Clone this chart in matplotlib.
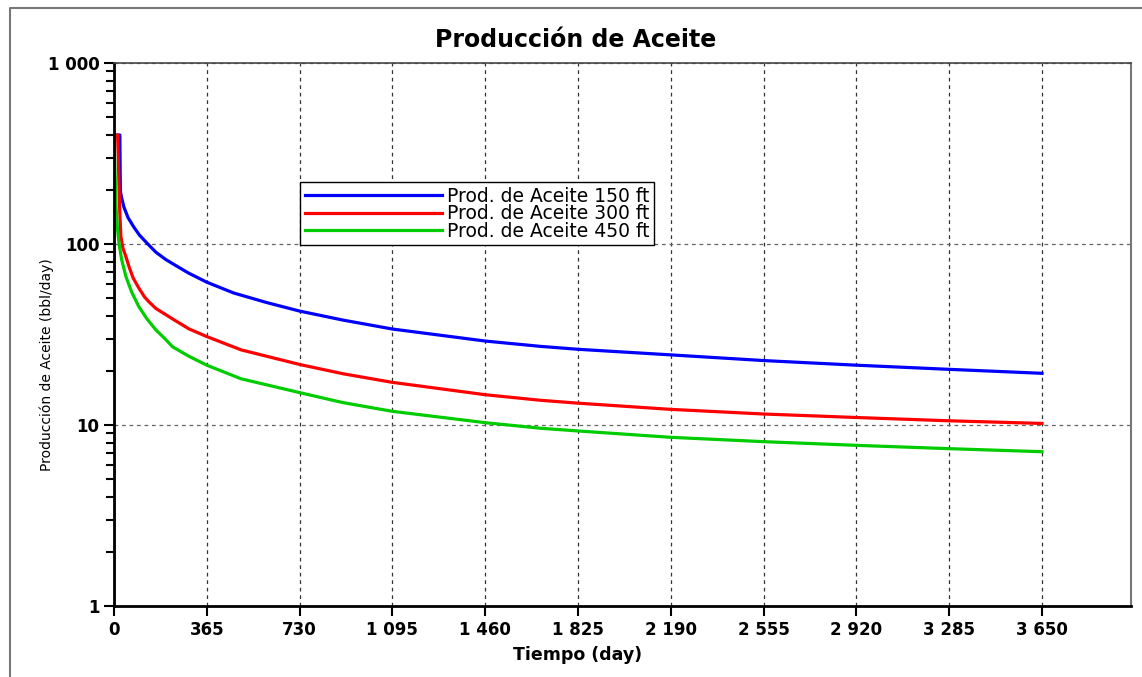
import matplotlib
matplotlib.use('Agg')
import matplotlib.pyplot as plt
from matplotlib.ticker import FixedLocator, LogLocator, FuncFormatter, NullFormatter
from matplotlib.lines import Line2D

plt.rcParams['font.family'] = ['DejaVu Sans']

# Producción de aceite (bbl/day) vs tiempo (day)
t_150 = [0, 23, 25, 30, 39, 55, 78, 100, 133, 165, 204, 250, 294, 365, 471, 600, 730,
         900, 1095, 1460, 1676, 1825, 2190, 2555, 2920, 3285, 3650]
q_150 = [400, 400, 195, 180, 160, 140, 124, 112, 100, 90, 82, 75, 69, 61.5, 53.6, 47.5, 42.6,
         38, 33.9, 29.1, 27.2, 26.2, 24.4, 22.7, 21.4, 20.3, 19.3]

t_300 = [0, 14, 17, 19, 22, 27, 35, 47, 59, 75, 98, 120, 137, 165, 200, 231, 294, 365, 500,
         730, 900, 1095, 1460, 1676, 1825, 2190, 2555, 2920, 3285, 3650]
q_300 = [400, 400, 300, 226, 160, 110, 95, 85, 75, 65, 57, 51, 48, 44, 41, 38.5, 34, 30.8, 26,
         21.6, 19.2, 17.2, 14.7, 13.7, 13.2, 12.2, 11.5, 11.0, 10.55, 10.2]

t_450 = [0, 0, 4, 8, 14, 20, 30, 47, 70, 98, 130, 165, 200, 231, 294, 365, 500, 730, 900,
         1095, 1460, 1676, 1825, 2190, 2555, 2920, 3285, 3650]
q_450 = [1, 400, 250, 160, 120, 100, 82, 66, 54, 45, 38.5, 33.5, 30, 27, 24, 21.4, 18, 15.1,
         13.3, 11.9, 10.3, 9.6, 9.27, 8.55, 8.09, 7.72, 7.4, 7.12]

x_ticks = [0, 365, 730, 1095, 1460, 1825, 2190, 2555, 2920, 3285, 3650]
y_ticks = [1, 10, 100, 1000]
y_tick_labels = ['1', '10', '100', '1 000']


def thousands(v, pos=None):
    return f"{int(round(v)):,}".replace(',', ' ')


def main():
    W, H = 1142, 677
    fig = plt.figure(figsize=(W / 100, H / 100), dpi=100)
    ax = fig.add_axes([114 / W, 1 - 606 / H, (1131 - 114) / W, (606 - 63) / H])

    ax.plot(t_150, q_150, color='#0000ff', lw=2.3, label='Prod. de Aceite 150 ft')
    ax.plot(t_300, q_300, color='#ff0000', lw=2.3, label='Prod. de Aceite 300 ft')
    ax.plot(t_450, q_450, color='#00cc00', lw=2.3, label='Prod. de Aceite 450 ft')

    ax.set_yscale('log')
    ax.set_xlim(0, 4000)
    ax.set_ylim(1, 1000)

    ax.xaxis.set_major_locator(FixedLocator(x_ticks))
    ax.xaxis.set_major_formatter(FuncFormatter(thousands))
    ax.yaxis.set_major_locator(FixedLocator(y_ticks))
    ax.yaxis.set_major_formatter(FuncFormatter(lambda v, p: y_tick_labels[y_ticks.index(int(round(v)))]))
    ax.yaxis.set_minor_locator(LogLocator(base=10, subs=range(2, 10)))
    ax.yaxis.set_minor_formatter(NullFormatter())

    ax.tick_params(axis='both', which='major', direction='out', labelsize=12,
                   width=1.5, length=7, color='black')
    ax.tick_params(axis='y', which='minor', direction='out', width=1.5, length=6)
    ax.tick_params(axis='x', pad=4)
    for lab in ax.get_xticklabels() + ax.get_yticklabels():
        lab.set_fontweight('bold')

    ax.grid(True, which='major', axis='x', color='#333333', ls=(0, (3, 3)), lw=0.9)
    ax.grid(True, which='major', axis='y', color='#666666', ls=(0, (3, 3)), lw=0.9)

    ax.spines['left'].set_linewidth(2)
    ax.spines['bottom'].set_linewidth(2)
    ax.spines['top'].set_color('#444444')
    ax.spines['right'].set_color('#777777')
    ax.spines['top'].set_linewidth(1.2)
    ax.spines['right'].set_linewidth(1.5)

    ax.set_xlabel('Tiempo (day)', fontsize=12.5, fontweight='bold')
    ax.xaxis.set_label_coords((578 - 114) / (1131 - 114), -(646 - 606) / (606 - 63))
    ax.set_ylabel('Producción de Aceite (bbl/day)', fontsize=10)
    ax.yaxis.set_label_coords(-(114 - 54) / (1131 - 114), 1 - (365 - 63) / (606 - 63))
    fig.text(576 / W, 1 - 40 / H, 'Producción de Aceite', fontsize=17,
             fontweight='bold', ha='center', va='center')

    leg = ax.legend(loc='upper left', bbox_to_anchor=(300 / W, 1 - 182 / H),
                    bbox_transform=fig.transFigure, fontsize=13.5,
                    frameon=True, fancybox=False, edgecolor='black', framealpha=1,
                    handlelength=7.3, handletextpad=0.3, labelspacing=-0.08,
                    borderpad=0.25, borderaxespad=0)
    leg.get_frame().set_linewidth(1.0)

    # outer frame of the original screenshot
    fig.add_artist(Line2D([10 / W, 10 / W, 1], [0, 1 - 8 / H, 1 - 8 / H],
                          transform=fig.transFigure, color='#777777', lw=1.5))

    fig.savefig('out.png', dpi=100)


if __name__ == '__main__':
    main()
